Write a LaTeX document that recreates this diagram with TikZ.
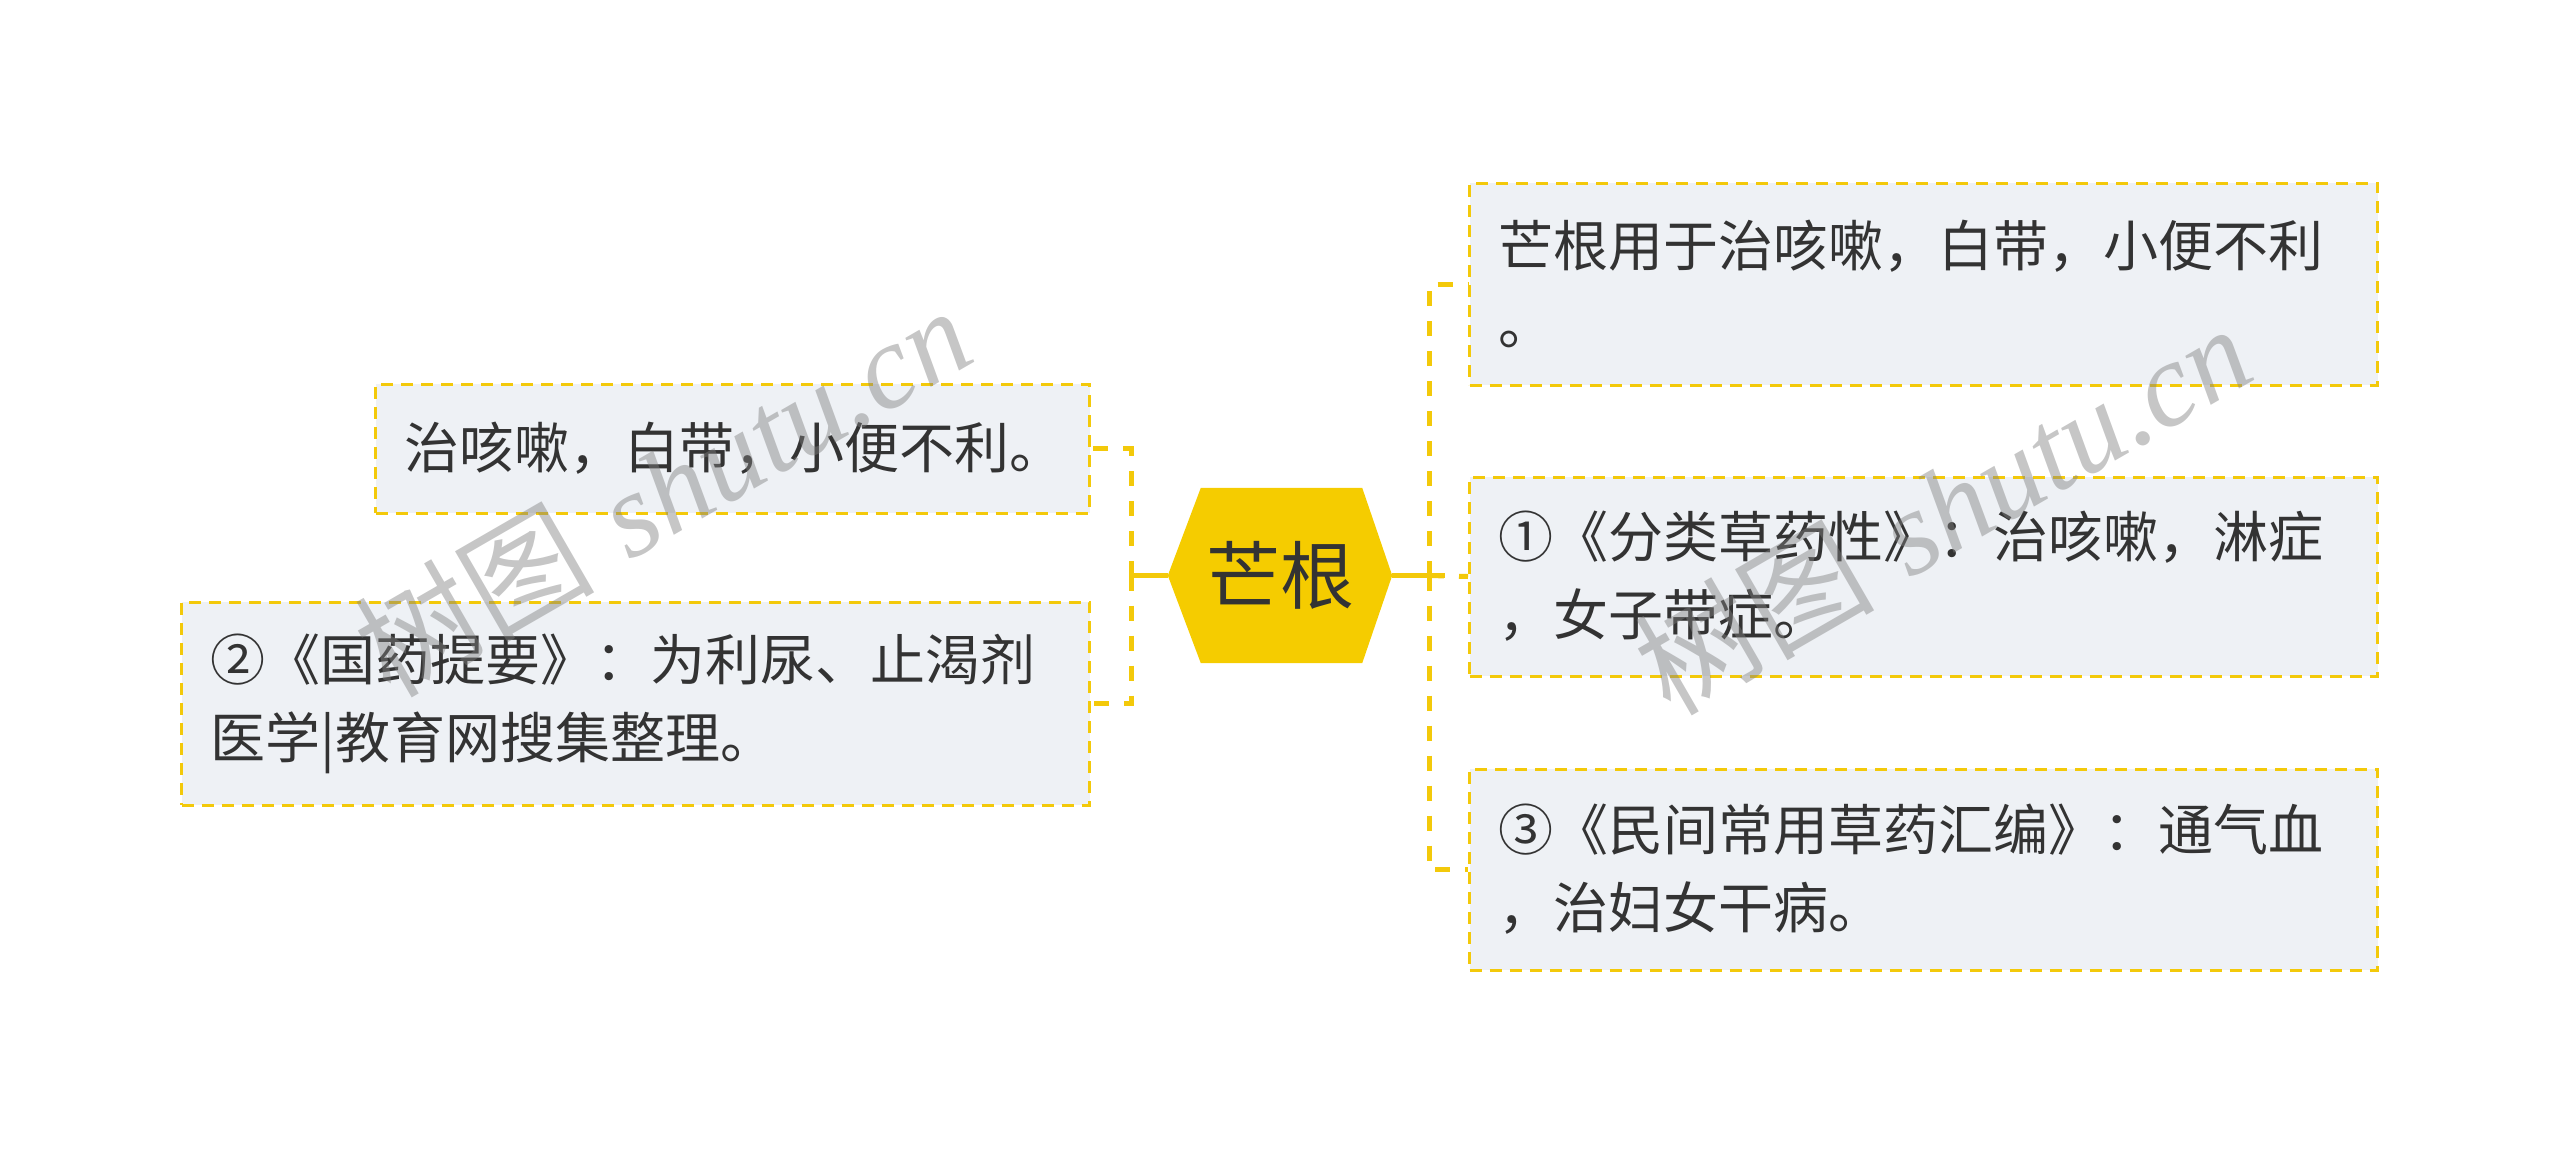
\documentclass[tikz,border=0pt]{standalone}
\usepackage{fontspec}
\newfontfamily\cjk{Noto Sans CJK SC}
\newfontfamily\wmserif{Liberation Serif}
\usetikzlibrary{calc}
\definecolor{ylw}{RGB}{243,201,10}
\definecolor{hexfill}{RGB}{245,204,0}
\definecolor{boxfill}{RGB}{238,241,245}
\definecolor{txt}{RGB}{51,51,51}
\tikzset{
  leafbox/.style={draw=ylw, fill=boxfill, line width=3pt, dash pattern=on 12pt off 8pt,
    inner xsep=29pt, inner ysep=0pt, align=left, text=txt,
    font=\cjk\fontsize{55}{78}\selectfont},
  dashlink/.style={draw=ylw, line width=5pt, dash pattern=on 15pt off 15pt},
  solidlink/.style={draw=ylw, line width=4.5pt},
  wmark/.style={text=gray, opacity=0.45, rotate=30, font=\fontsize{120}{120}\selectfont}
}
\begin{document}
\begin{tikzpicture}[x=1pt,y=-1pt]
\useasboundingbox (0,0) rectangle (2560,1152);
% central hexagon
\node[minimum width=224pt, minimum height=175pt, inner sep=0pt] (hex) at (1280,575.5) {};
\fill[hexfill] (hex.west) -- ([xshift=33pt]hex.north west) -- ([xshift=-30pt]hex.north east)
  -- (hex.east) -- ([xshift=-30pt]hex.south east) -- ([xshift=33pt]hex.south west) -- cycle;
\node[text=txt, font=\cjk\fontsize{74}{74}\selectfont] (hexlabel) at (hex.center) {芒根};
% right boxes
\node[leafbox, anchor=west, text width=850pt, minimum height=202pt] (r1) at (1468,284)
  {芒根用于治咳嗽，白带，小便不利\\。};
\node[leafbox, anchor=west, text width=850pt, minimum height=199pt] (r2) at (1468,576.5)
  {①《分类草药性》：治咳嗽，淋症\\，女子带症。};
\node[leafbox, anchor=west, text width=850pt, minimum height=201pt] (r3) at (1468,869.5)
  {③《民间常用草药汇编》：通气血\\，治妇女干病。};
% left boxes
\node[leafbox, anchor=east, text width=656pt, minimum height=129pt] (l1) at (1091,448.5)
  {治咳嗽，白带，小便不利。};
\node[leafbox, anchor=east, text width=850pt, minimum height=203pt] (l2) at (1091,703.5)
  {②《国药提要》：为利尿、止渴剂\\医学|教育网搜集整理。};
% connectors right
\coordinate (rv) at (1429,575.5);
\coordinate (rs) at (1445,575.5);
\draw[solidlink] (hex.east) -- (rs);
\draw[dashlink] (rv) |- (r1.west);
\draw[dashlink] (rv) |- (r3.west);
\draw[dashlink] (rv) -- (r2.west);
% connectors left
\coordinate (lv) at (1131,575.5);
\draw[solidlink] (hex.west) -- (lv);
\draw[dashlink] (lv) |- (l1.east);
\draw[dashlink] (lv) |- (l2.east);
% watermarks
\node[wmark] (wm1) at (662,490) {{\cjk 树图} {\wmserif\itshape shutu.cn}};
\node[wmark] (wm2) at (1942,508) {{\cjk 树图} {\wmserif\itshape shutu.cn}};
\end{tikzpicture}
\end{document}
